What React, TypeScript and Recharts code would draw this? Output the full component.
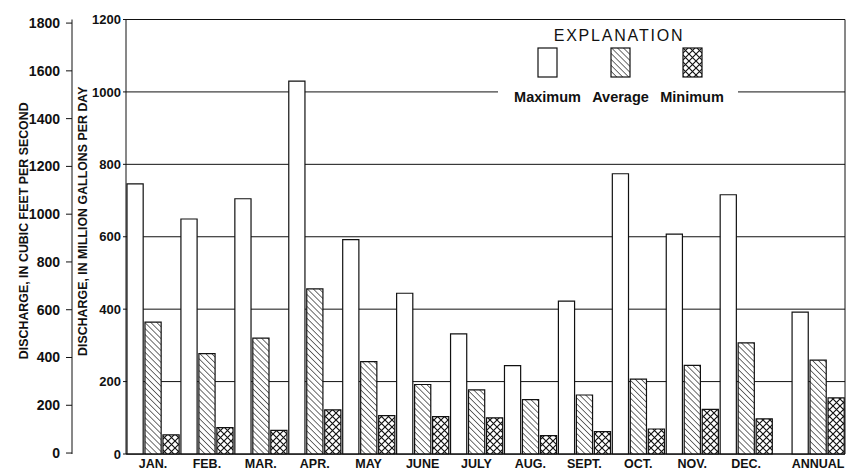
import React from 'react';
import { BarChart, Bar, XAxis, YAxis, CartesianGrid, Legend } from 'recharts';

const FONT = '"Liberation Sans", Arial, Helvetica, sans-serif';
const INK = '#111';

// Monthly discharge, million gallons per day
const PERIODS = ['JAN.', 'FEB.', 'MAR.', 'APR.', 'MAY', 'JUNE', 'JULY', 'AUG.', 'SEPT.', 'OCT.', 'NOV.', 'DEC.', 'ANNUAL'];
const MAXIMUM = [746, 649, 705, 1030, 592, 444, 332, 244, 422, 774, 607, 716, 392];
const AVERAGE = [364, 277, 320, 456, 255, 192, 177, 150, 163, 207, 245, 307, 259];
const MINIMUM = [53, 73, 65, 122, 106, 103, 100, 51, 62, 69, 123, 97, 155];

const MGD_TICKS = [0, 200, 400, 600, 800, 1000, 1200];
const CFS_TICKS = [0, 200, 400, 600, 800, 1000, 1200, 1400, 1600, 1800];

// one slot per bar so the three bars of a month sit edge to edge;
// an empty slot separates the annual group
type Slot = { tick: string; maximum?: number; average?: number; minimum?: number };
const slots: Slot[] = [];
PERIODS.forEach((label, i) => {
  if (label === 'ANNUAL') slots.push({ tick: '' });
  slots.push({ tick: '', maximum: MAXIMUM[i] });
  slots.push({ tick: label, average: AVERAGE[i] });
  slots.push({ tick: '', minimum: MINIMUM[i] });
});

const axisTitle = (text: string, dx: number, dy: number) => (props: any) => {
  const vb = props.viewBox || {};
  const cx = vb.x + dx;
  const cy = vb.y + vb.height / 2 + dy;
  return (
    <text
      x={cx}
      y={cy}
      transform={`rotate(-90 ${cx} ${cy})`}
      textAnchor="middle"
      dominantBaseline="central"
      fontFamily={FONT}
      fontSize={12.4}
      fontWeight={700}
      fill={INK}
    >
      {text}
    </text>
  );
};

const MonthTick = (props: any) => {
  const { x, y, payload } = props;
  if (!payload.value) return null;
  return (
    <text x={x} y={y + 14} textAnchor="middle" fontFamily={FONT} fontSize={12.5} fontWeight={700} fill={INK}>
      {payload.value}
    </text>
  );
};

const keyItems = [
  { name: 'Maximum', fill: '#fff', left: 13.5 },
  { name: 'Average', fill: 'url(#avgHatch)', left: 86.5 },
  { name: 'Minimum', fill: 'url(#minHatch)', left: 158 },
];

const ExplanationKey = () => (
  <div style={{ position: 'relative', width: 240, height: 84, background: '#fff', fontFamily: FONT, color: INK }}>
    <div style={{ position: 'absolute', top: 2, left: 0, width: 242, textAlign: 'center', fontSize: 16, letterSpacing: 1.8, lineHeight: '20px' }}>
      EXPLANATION
    </div>
    {keyItems.map((item) => (
      <div key={item.name} style={{ position: 'absolute', left: item.left, top: 0, width: 72, height: 84 }}>
        <svg width={21} height={31} style={{ position: 'absolute', left: 25.5, top: 23 }}>
          <rect x={1} y={1} width={19} height={29} fill={item.fill} stroke={INK} strokeWidth={1.2} />
        </svg>
        <div style={{ position: 'absolute', top: 64, left: -10, width: 92, textAlign: 'center', fontSize: 14.5, fontWeight: 700, lineHeight: '18px' }}>
          {item.name}
        </div>
      </div>
    ))}
  </div>
);

export default function App() {
  return (
    <div style={{ position: 'absolute', left: 0, top: 0, width: 846, height: 471, background: '#fff' }}>
      <BarChart
        width={846}
        height={471}
        data={slots}
        margin={{ top: 19.5, right: 0, bottom: 0, left: 0 }}
        barCategoryGap={0}
        barGap={0}
        barSize={18}
      >
        <defs>
          <pattern id="avgHatch" patternUnits="userSpaceOnUse" width={4.2} height={4.2} patternTransform="rotate(-45)">
            <rect width={4.2} height={4.2} fill="#fff" />
            <line x1={0} y1={0} x2={0} y2={4.2} stroke={INK} strokeWidth={1.2} />
          </pattern>
          <pattern id="minHatch" patternUnits="userSpaceOnUse" width={7} height={7}>
            <rect width={7} height={7} fill="#fff" />
            <path d="M0,0 L7,7 M7,0 L0,7" stroke={INK} strokeWidth={1.15} />
          </pattern>
        </defs>
        <CartesianGrid yAxisId="inner" vertical={false} stroke={INK} strokeOpacity={1} />
        <XAxis
          dataKey="tick"
          interval={0}
          height={17}
          tickLine={false}
          tickSize={0}
          tickMargin={0}
          axisLine={{ stroke: INK }}
          tick={MonthTick}
        />
        {/* inner axis in million gallons per day, drives the bars */}
        <YAxis
          yAxisId="inner"
          width={54}
          domain={[0, 1200]}
          ticks={MGD_TICKS}
          tickSize={3}
          tickMargin={2}
          axisLine={{ stroke: INK }}
          tickLine={{ stroke: INK }}
          tick={{ fontFamily: FONT, fontSize: 13, fontWeight: 700, fill: INK }}
          label={axisTitle('DISCHARGE, IN MILLION GALLONS PER DAY', 11, -15.5)}
        />
        {/* outer axis in cubic feet per second */}
        <YAxis
          yAxisId="outer"
          width={72}
          domain={[-4, 1815]}
          ticks={CFS_TICKS}
          allowDataOverflow
          tickSize={6}
          tickMargin={6}
          axisLine={{ stroke: INK }}
          tickLine={{ stroke: INK }}
          tick={{ fontFamily: FONT, fontSize: 14, fontWeight: 700, fill: INK }}
          label={axisTitle('DISCHARGE, IN CUBIC FEET PER SECOND', 24, -6)}
        />
        <YAxis yAxisId="frame" orientation="right" width={1} domain={[0, 1200]} tick={false} tickLine={false} axisLine={{ stroke: INK }} />
        <Legend
          layout="vertical"
          align="center"
          verticalAlign="middle"
          wrapperStyle={{ left: 498, top: 24, width: 240, height: 84 }}
          content={ExplanationKey}
        />
        <Bar yAxisId="inner" dataKey="maximum" stackId="q" fill="#fff" stroke={INK} strokeWidth={1.2} isAnimationActive={false} />
        <Bar yAxisId="inner" dataKey="average" stackId="q" fill="url(#avgHatch)" stroke={INK} strokeWidth={1.2} isAnimationActive={false} />
        <Bar yAxisId="inner" dataKey="minimum" stackId="q" fill="url(#minHatch)" stroke={INK} strokeWidth={1.2} isAnimationActive={false} />
      </BarChart>
    </div>
  );
}
